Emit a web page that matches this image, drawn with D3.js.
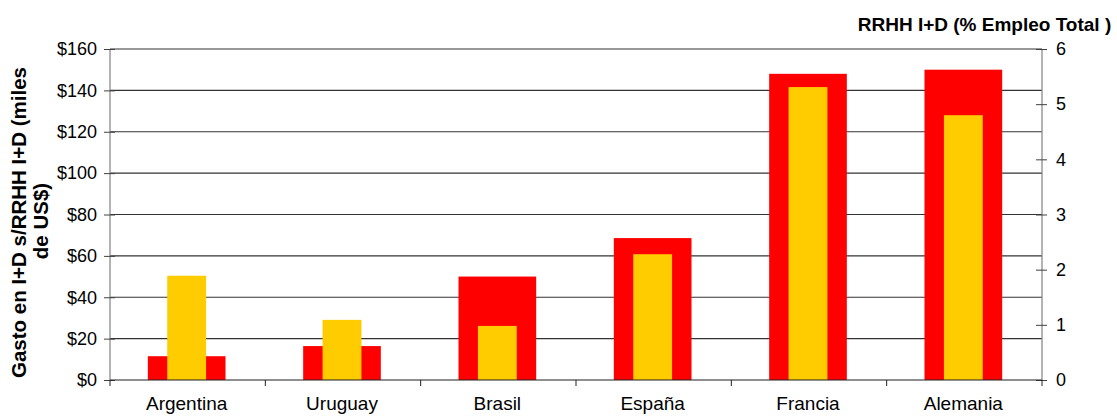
<!DOCTYPE html>
<html>
<head>
<meta charset="utf-8">
<script src="https://cdn.jsdelivr.net/npm/d3@7"></script>
<style>
  html, body { margin: 0; padding: 0; background: #fff; }
  svg { display: block; }
  text { font-family: "Liberation Sans", Arial, sans-serif; fill: #000; }
</style>
</head>
<body>
<svg id="chart" width="1117" height="416"></svg>
<script>
// ---- data ----
const categories = ["Argentina", "Uruguay", "Brasil", "España", "Francia", "Alemania"];
const gastoValues = [11.5, 16.4, 50, 68.6, 148, 150];     // left axis, miles de US$
const rrhhValues  = [1.89, 1.09, 0.98, 2.28, 5.31, 4.8];   // right axis, % empleo total
const leftTicks   = [0, 20, 40, 60, 80, 100, 120, 140, 160];
const rightTicks  = [0, 1, 2, 3, 4, 5, 6];
const leftTitle   = ["Gasto en I+D s/RRHH I+D (miles", "de US$)"];
const rightTitle  = "RRHH I+D (% Empleo Total )";

// ---- layout ----
const svg = d3.select("#chart");
const L = 110, R = 1042, T = 49, B = 380;

const x = d3.scaleBand().domain(categories).range([L, R]).paddingInner(0.5).paddingOuter(0.25);
const yL = d3.scaleLinear().domain([0, 160]).range([B, T]);
const yR = d3.scaleLinear().domain([0, 6]).range([B, T]);

// gridlines
svg.append("g").selectAll("line").data(leftTicks.filter(d => d > 0)).join("line")
  .attr("x1", L).attr("x2", R)
  .attr("y1", d => yL(d)).attr("y2", d => yL(d))
  .attr("stroke", "#333333").attr("stroke-width", 1.2);

// red bars (gasto)
const bw = x.bandwidth();
svg.append("g").selectAll("rect").data(categories).join("rect")
  .attr("x", d => x(d) - 1)
  .attr("width", bw)
  .attr("y", (d, i) => yL(gastoValues[i]))
  .attr("height", (d, i) => B - yL(gastoValues[i]))
  .attr("fill", "#FF0000");

// yellow bars (rrhh)
svg.append("g").selectAll("rect").data(categories).join("rect")
  .attr("x", d => x(d) - 1 + bw / 4)
  .attr("width", bw / 2)
  .attr("y", (d, i) => yR(rrhhValues[i]))
  .attr("height", (d, i) => B - yR(rrhhValues[i]))
  .attr("fill", "#FFCC00");

// left axis
const gl = svg.append("g").attr("transform", `translate(${L},0)`)
  .call(d3.axisLeft(yL).tickValues(leftTicks).tickFormat(d => "$" + d).tickSize(6).tickPadding(7));
gl.select(".domain").attr("stroke", "#808080").attr("stroke-width", 1.2).attr("d", `M0,${T}V${B}`);
gl.selectAll(".tick line").attr("x1", -6).attr("x2", 5).attr("stroke", "#404040");
gl.selectAll(".tick text").attr("font-size", 18).attr("font-family", "Liberation Sans, Arial, sans-serif");

// right axis
const gr = svg.append("g").attr("transform", `translate(${R},0)`)
  .call(d3.axisRight(yR).tickValues(rightTicks).tickFormat(d3.format("d")).tickSize(6).tickPadding(8));
gr.select(".domain").attr("stroke", "#808080").attr("stroke-width", 1.2).attr("d", `M0,${T}V${B}`);
gr.selectAll(".tick line").attr("x1", -6).attr("x2", 5).attr("stroke", "#404040");
gr.selectAll(".tick text").attr("font-size", 18).attr("font-family", "Liberation Sans, Arial, sans-serif");

// bottom axis line + category boundary ticks
const bounds = d3.range(categories.length + 1).map(i => L + i * (R - L) / categories.length);
svg.append("line").attr("x1", L).attr("x2", R).attr("y1", B).attr("y2", B)
  .attr("stroke", "#202020").attr("stroke-width", 1.2);
svg.append("g").selectAll("line").data(bounds).join("line")
  .attr("x1", d => d).attr("x2", d => d).attr("y1", B).attr("y2", B + 6)
  .attr("stroke", "#202020");

// category labels
svg.append("g").selectAll("text").data(categories).join("text")
  .attr("x", d => x(d) - 1 + bw / 2)
  .attr("y", 410)
  .attr("text-anchor", "middle")
  .attr("font-size", 19)
  .text(d => d);

// left title (two rotated lines)
svg.append("text")
  .attr("transform", "translate(26,222.5) rotate(-90)")
  .attr("text-anchor", "middle").attr("font-size", 20.5).attr("font-weight", "bold")
  .text(leftTitle[0]);
svg.append("text")
  .attr("transform", "translate(48,221) rotate(-90)")
  .attr("text-anchor", "middle").attr("font-size", 20.5).attr("font-weight", "bold")
  .text(leftTitle[1]);

// right title
svg.append("text")
  .attr("x", 984.5).attr("y", 31)
  .attr("text-anchor", "middle").attr("font-size", 19).attr("font-weight", "bold")
  .text(rightTitle);
</script>
</body>
</html>
